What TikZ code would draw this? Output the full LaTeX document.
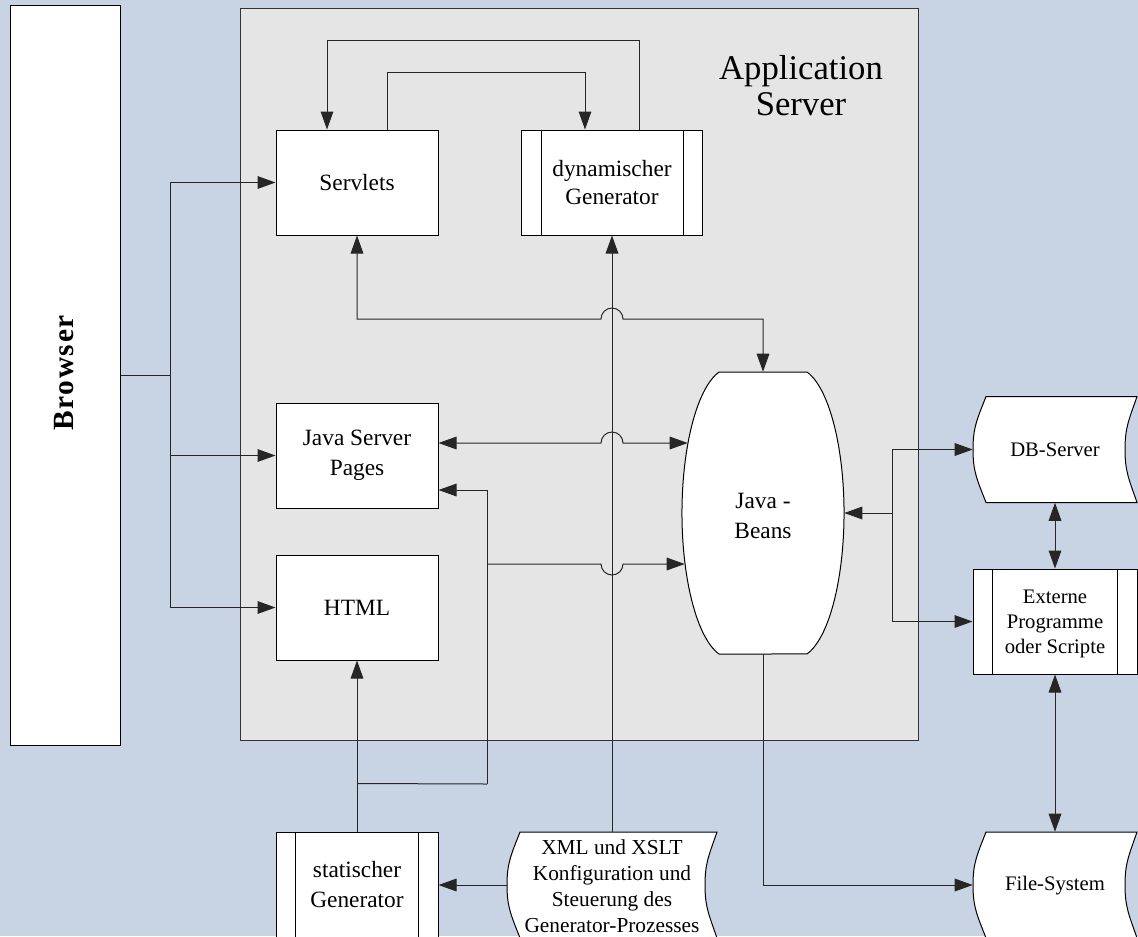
\documentclass[tikz,border=0pt]{standalone}
\usepackage{fontspec}
\setmainfont{Liberation Serif}
\usetikzlibrary{arrows.meta}
\definecolor{bgblue}{RGB}{200,212,227}
\definecolor{appgrey}{RGB}{229,229,229}
% one drawing unit = 0.75pt
\def\PX{0.75pt}

% stored-data symbol: curved left and right sides, then a named node on top
% #1 node options, #2 name, #3 x, #4 y, #5 half width, #6 text
\newcommand\storedshape[6][]{%
  \filldraw[outline]
    ({#3-#5+13},{#4-53}) -- ({#3+#5},{#4-53})
    .. controls ({#3+#5-8},{#4-30}) and ({#3+#5-12},{#4-22}) .. ({#3+#5-12},{#4})
    .. controls ({#3+#5-12},{#4+22}) and ({#3+#5-8},{#4+30}) .. ({#3+#5},{#4+53})
    -- ({#3-#5+13},{#4+53})
    .. controls ({#3-#5+4},{#4+30}) and ({#3-#5},{#4+22}) .. ({#3-#5},{#4})
    .. controls ({#3-#5},{#4-22}) and ({#3-#5+4},{#4-30}) .. ({#3-#5+13},{#4-53})
    -- cycle;
  \node[#1, minimum width={2*#5*\PX}, minimum height=106*\PX] (#2) at (#3,#4) {#6};%
}

\begin{document}
\begin{tikzpicture}[x=0.75pt, y=-0.75pt,
  every node/.style={font=\fontsize{17.5}{21.5}\selectfont, align=center, inner sep=0pt},
  outline/.style={draw=black, fill=white, line width=0.75pt},
  box/.style={outline, minimum width=162*\PX, minimum height=105*\PX},
  small/.style={font=\fontsize{15.5}{18.5}\selectfont},
  wire/.style={line width=0.75pt, draw=black!85},
  tip/.tip={Triangle[length=13.5pt, width=9.5pt]},
  arr/.style={wire, -tip},
  arrs/.style={wire, tip-tip},
]
\useasboundingbox (0,0) rectangle (1138,936);
\clip (0,0) rectangle (1138,936);
\fill[bgblue] (0,0) rectangle (1138,936);

% application server frame
\node[draw=black!80, fill=appgrey, line width=0.75pt,
      minimum width=678*\PX, minimum height=732*\PX] (app) at (579,374) {};
\node[font=\fontsize{26}{27}\selectfont] (title) at (801,86) {Application\\Server};

% browser
\node[box, minimum width=110*\PX, minimum height=740*\PX] (browser) at (65,375) {};
\node[font=\fontsize{22}{24}\selectfont] (browserlabel) at (64,373)
  {\rotatebox{90}{\bfseries\addfontfeature{LetterSpace=6}Browser}};

% boxes inside the server
\node[box] (serv) at (357,182.5) {Servlets};
\node[box, minimum width=181*\PX, font=\fontsize{17.5}{21}\selectfont] (gen) at (612,182.5) {dynamischer\\Generator};
\draw[outline] ([xshift=20*\PX]gen.north west) -- ([xshift=20*\PX]gen.south west);
\draw[outline] ([xshift=-20*\PX]gen.north east) -- ([xshift=-20*\PX]gen.south east);
\node[box, font=\fontsize{17.5}{22.5}\selectfont] (jsp) at (357,455.5) {Java Server\\Pages};
\node[box] (html) at (357,607.5) {HTML};

% Java beans
\node[minimum width=162*\PX, minimum height=282*\PX] (beans) at (763,513) {};
\begin{scope}[shift={(beans.center)}]
  \filldraw[outline] (-44,-141) -- (44,-141)
    arc[start angle=76.5, end angle=-76.5, x radius=48.3*\PX, y radius=145*\PX]
    -- (-44,141)
    arc[start angle=256.5, end angle=103.5, x radius=48.3*\PX, y radius=145*\PX]
    -- cycle;
\end{scope}
\node[font=\fontsize{17.5}{23}\selectfont] (beanslabel) at (763,516) {Java -\\Beans};

% external systems
\storedshape[small]{db}{1055}{449.5}{82}{DB-Server}
\node[box, small, minimum width=164*\PX] (ext) at (1055,621.5) {};
\node[small] (extlabel) at (1055,624) {Externe\\Programme\\oder Scripte};
\draw[outline] ([xshift=20*\PX]ext.north west) -- ([xshift=20*\PX]ext.south west);
\draw[outline] ([xshift=-20*\PX]ext.north east) -- ([xshift=-20*\PX]ext.south east);
\storedshape[small]{fs}{1055}{885}{82}{}
\node[small] (fslabel) at (1055,886) {File-System};

% generator inputs
\storedshape{xml}{612}{885}{105}{}
\node[font=\fontsize{16}{19.5}\selectfont] (xmllabel) at (612,886)
  {XML und XSLT\\Konfiguration und\\Steuerung des\\Generator-Prozesses};
\node[box, minimum height=106*\PX, font=\fontsize{17.5}{22.5}\selectfont] (sgen) at (357,885) {statischer\\Generator};
\draw[outline] ([xshift=20*\PX]sgen.north west) -- ([xshift=20*\PX]sgen.south west);
\draw[outline] ([xshift=-20*\PX]sgen.north east) -- ([xshift=-20*\PX]sgen.south east);

% routing points
\coordinate (bsplit) at ([xshift=50*\PX]browser.east);
\coordinate (jA) at (612,319);
\coordinate (jB) at (612,443);
\coordinate (jC) at (612,564);
\coordinate (sj) at ([yshift=48*\PX]sgen.north);
\coordinate (sk) at (487,784);
\coordinate (bj) at ([xshift=48*\PX]beans.east);

% browser fan-out
\draw[wire] (browser.east) -- (bsplit);
\draw[arr] (bsplit) |- (serv.west);
\draw[arr] (bsplit) |- (jsp.west);
\draw[arr] (bsplit) |- (html.west);

% servlets and dynamic generator
\draw[arr] ([xshift=27*\PX]gen.north) -- ++(0,-89) -| ([xshift=-30*\PX]serv.north);
\draw[arr] ([xshift=30*\PX]serv.north) -- ++(0,-57) -| ([xshift=-27*\PX]gen.north);

% configuration feeds the dynamic generator
\draw[arr] (xml.north) -- (gen.south);

% links to the beans, hopping over the vertical line
\draw[arrs] (serv.south) |- ([xshift=-11*\PX]jA)
  arc[start angle=180, end angle=0, radius=11*\PX] -| (beans.north);
\draw[arrs] ([yshift=12.5*\PX]jsp.east) -- ([xshift=-11*\PX]jB)
  arc[start angle=180, end angle=0, radius=11*\PX] -- ([xshift=6*\PX]beans.west |- jB);

% static generator outputs
\draw[arr] (sgen.north) -- (html.south);
\draw[wire] (sj) -- (sk);
\draw[arr] (sk) |- ([yshift=-34.5*\PX]jsp.east);
\draw[arr] (sk |- jC) -- ([xshift=-11*\PX]jC)
  arc[start angle=180, end angle=360, radius=11*\PX] -- ([xshift=3*\PX]beans.west |- jC);
\draw[arr] (xml.west) -- (sgen.east);

% beans to external systems
\draw[arr] (bj) -- (beans.east);
\draw[arr] (bj) |- (db.west);
\draw[arr] (bj) |- (ext.west);
\draw[arrs] (db.south) -- (ext.north);
\draw[arrs] (ext.south) -- (fs.north);
\draw[arr] (beans.south) |- (fs.west);
\end{tikzpicture}
\end{document}
